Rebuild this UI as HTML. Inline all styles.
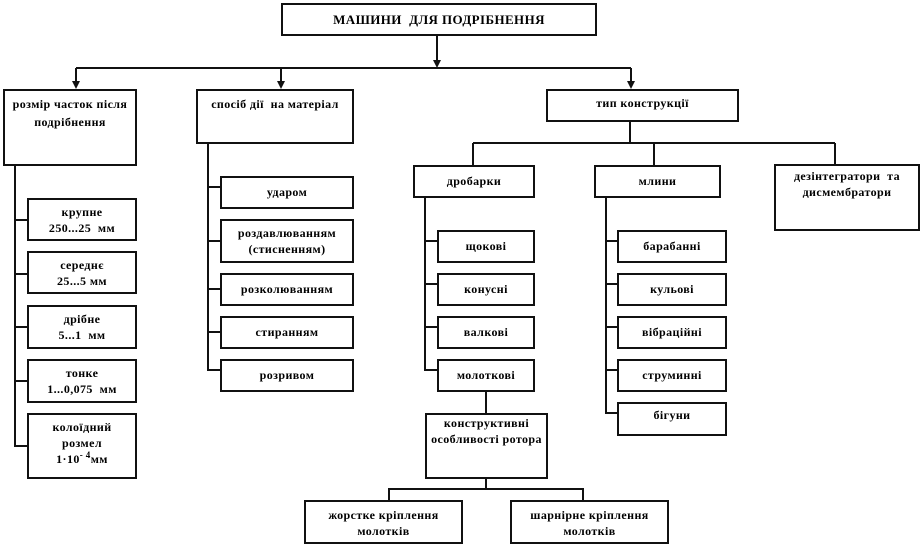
<!DOCTYPE html>
<html><head><meta charset="utf-8"><style>
body{margin:0;width:924px;height:547px;background:#fff;position:relative;overflow:hidden;font-family:"Liberation Serif",serif;}
.b{position:absolute;box-sizing:border-box;border:2px solid #111;background:#fff;text-align:center;font-weight:bold;font-size:12px;line-height:16px;letter-spacing:0.4px;color:#000;padding-top:4px;white-space:nowrap;}
svg{position:absolute;left:0;top:0}
</style></head><body>
<svg width="924" height="547" stroke="#111" stroke-width="2" fill="none">
<line x1="437" y1="35" x2="437" y2="64"/>
<line x1="76" y1="68" x2="631" y2="68"/>
<line x1="76" y1="68" x2="76" y2="86"/><line x1="281" y1="68" x2="281" y2="86"/><line x1="631" y1="68" x2="631" y2="86"/>
<g fill="#111" stroke="none">
<polygon points="433,60 441,60 437,68"/>
<polygon points="72,81 80,81 76,89"/><polygon points="277,81 285,81 281,89"/><polygon points="627,81 635,81 631,89"/>
</g>
<polyline points="15,166 15,446 27,446"/>
<line x1="15" y1="220" x2="27" y2="220"/><line x1="15" y1="274" x2="27" y2="274"/><line x1="15" y1="327" x2="27" y2="327"/><line x1="15" y1="381" x2="27" y2="381"/>
<polyline points="208,143 208,370 220,370"/>
<line x1="208" y1="187" x2="220" y2="187"/><line x1="208" y1="241" x2="220" y2="241"/><line x1="208" y1="289" x2="220" y2="289"/><line x1="208" y1="332" x2="220" y2="332"/>
<line x1="630" y1="122" x2="630" y2="143"/>
<line x1="473" y1="143" x2="835" y2="143"/>
<line x1="473" y1="143" x2="473" y2="165"/><line x1="654" y1="143" x2="654" y2="165"/><line x1="835" y1="143" x2="835" y2="165"/>
<polyline points="425,197 425,370 437,370"/>
<line x1="425" y1="241" x2="437" y2="241"/><line x1="425" y1="284" x2="437" y2="284"/><line x1="425" y1="327" x2="437" y2="327"/>
<polyline points="606,197 606,413 617,413"/>
<line x1="606" y1="241" x2="617" y2="241"/><line x1="606" y1="284" x2="617" y2="284"/><line x1="606" y1="327" x2="617" y2="327"/><line x1="606" y1="370" x2="617" y2="370"/>
<line x1="486" y1="392" x2="486" y2="413"/>
<line x1="486" y1="478" x2="486" y2="489"/>
<polyline points="389,500 389,489 583,489 583,500"/>
</svg>
<div class="b" style="left:281px;top:3px;width:316px;height:33px;padding-top:7px;font-size:13px">МАШИНИ&nbsp; ДЛЯ ПОДРІБНЕННЯ</div>
<div class="b" style="left:3px;top:89px;width:134px;height:77px;padding:4px 0 0;line-height:18px">розмір часток після<br>подрібнення</div>
<div class="b" style="left:196px;top:89px;width:158px;height:55px;padding-top:5px">спосіб дії&nbsp; на матеріал</div>
<div class="b" style="left:546px;top:89px;width:193px;height:33px;padding-top:4px">тип конструкції</div>

<div class="b" style="left:27px;top:198px;width:110px;height:43px">крупне<br>250...25&nbsp; мм</div>
<div class="b" style="left:27px;top:251px;width:110px;height:43px">середнє<br>25...5 мм</div>
<div class="b" style="left:27px;top:305px;width:110px;height:44px">дрібне<br>5...1&nbsp; мм</div>
<div class="b" style="left:27px;top:359px;width:110px;height:44px">тонке<br>1...0,075&nbsp; мм</div>
<div class="b" style="left:27px;top:413px;width:110px;height:66px">колоїдний<br>розмел<br>1·10<sup style="font-size:9px;line-height:0">-&nbsp;4</sup>мм</div>

<div class="b" style="left:220px;top:176px;width:134px;height:33px;padding-top:6px">ударом</div>
<div class="b" style="left:220px;top:219px;width:134px;height:44px">роздавлюванням<br>(стисненням)</div>
<div class="b" style="left:220px;top:273px;width:134px;height:33px;padding-top:6px">розколюванням</div>
<div class="b" style="left:220px;top:316px;width:134px;height:33px;padding-top:6px">стиранням</div>
<div class="b" style="left:220px;top:359px;width:134px;height:33px;padding-top:6px">розривом</div>

<div class="b" style="left:413px;top:165px;width:122px;height:33px;padding-top:6px">дробарки</div>
<div class="b" style="left:594px;top:165px;width:127px;height:33px;padding-top:6px">млини</div>
<div class="b" style="left:774px;top:164px;width:146px;height:67px;padding-top:2px">дезінтегратори&nbsp; та<br>дисмембратори</div>

<div class="b" style="left:437px;top:230px;width:98px;height:33px;padding-top:6px">щокові</div>
<div class="b" style="left:437px;top:273px;width:98px;height:33px;padding-top:6px">конусні</div>
<div class="b" style="left:437px;top:316px;width:98px;height:33px;padding-top:6px">валкові</div>
<div class="b" style="left:437px;top:359px;width:98px;height:33px;padding-top:6px">молоткові</div>

<div class="b" style="left:617px;top:230px;width:110px;height:33px;padding-top:6px">барабанні</div>
<div class="b" style="left:617px;top:273px;width:110px;height:33px;padding-top:6px">кульові</div>
<div class="b" style="left:617px;top:316px;width:110px;height:33px;padding-top:6px">вібраційні</div>
<div class="b" style="left:617px;top:359px;width:110px;height:33px;padding-top:6px">струминні</div>
<div class="b" style="left:617px;top:402px;width:110px;height:34px;padding-top:3px">бігуни</div>

<div class="b" style="left:425px;top:413px;width:123px;height:66px;padding-top:0px">конструктивні<br>особливості ротора</div>
<div class="b" style="left:304px;top:500px;width:159px;height:44px;padding-top:5px">жорстке кріплення<br>молотків</div>
<div class="b" style="left:510px;top:500px;width:159px;height:44px;padding-top:5px">шарнірне кріплення<br>молотків</div>
</body></html>
